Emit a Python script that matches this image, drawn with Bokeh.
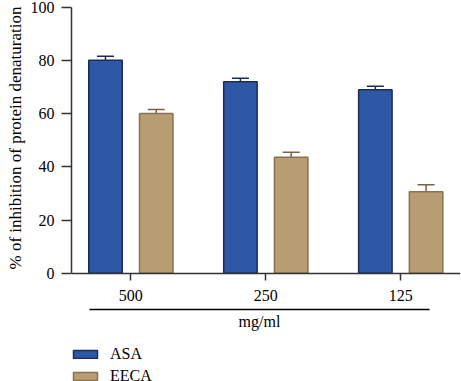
from bokeh.plotting import figure
from bokeh.models import (ColumnDataSource, Range1d, FixedTicker, LinearAxis,
                          Whisker, TeeHead, Legend, LegendItem, Title)
from bokeh.embed import file_html
from bokeh.resources import INLINE

# Concentrations (mg/ml) and mean % inhibition with error (±)
concentrations = ["500", "250", "125"]
asa_mean = [80.2, 72.1, 69.1]
asa_err = [1.5, 1.3, 1.3]
eeca_mean = [60.1, 43.7, 30.7]
eeca_err = [1.5, 1.8, 2.6]

FONT = "Liberation Serif"
ASA_FILL, ASA_LINE = "#2E58A5", "#1B2C58"
EECA_FILL, EECA_LINE = "#B89D72", "#8A7150"

groups = list(range(len(concentrations)))
offset = 0.188
bar_w = 0.248

# the frame reaches the bottom edge; the axes sit at fixed data positions
p = figure(width=461, height=381, output_backend="svg", toolbar_location=None,
           x_range=Range1d(-0.44, 2.443), y_range=Range1d(-40.7, 100),
           min_border_left=65, min_border_right=1, min_border_top=7,
           min_border_bottom=0)
p.outline_line_color = None
p.xgrid.visible = False
p.ygrid.visible = False
p.background_fill_color = "white"
p.border_fill_color = "white"

asa_src = ColumnDataSource(dict(
    x=[g - offset for g in groups], top=asa_mean,
    upper=[m + e for m, e in zip(asa_mean, asa_err)],
    lower=[m - e for m, e in zip(asa_mean, asa_err)]))
eeca_src = ColumnDataSource(dict(
    x=[g + offset for g in groups], top=eeca_mean,
    upper=[m + e for m, e in zip(eeca_mean, eeca_err)],
    lower=[m - e for m, e in zip(eeca_mean, eeca_err)]))

r_asa = p.vbar(x="x", top="top", bottom=0, width=bar_w, source=asa_src,
               fill_color=ASA_FILL, line_color=ASA_LINE, line_width=1.5)
r_eeca = p.vbar(x="x", top="top", bottom=0, width=bar_w, source=eeca_src,
                fill_color=EECA_FILL, line_color=EECA_LINE, line_width=1.5)

for src, col in ((asa_src, ASA_LINE), (eeca_src, "#7A6240")):
    w = Whisker(base="x", upper="upper", lower="lower", source=src,
                line_color=col, line_width=1.5,
                upper_head=TeeHead(size=17, line_color=col, line_width=1.5),
                lower_head=TeeHead(size=17, line_color=col, line_width=1.5))
    p.add_layout(w)

# y axis
ya = p.yaxis[0]
ya.ticker = FixedTicker(ticks=[0, 20, 40, 60, 80, 100])
ya.bounds = (0, 100)
ya.major_tick_out = 10
ya.major_tick_in = 0
ya.minor_tick_line_color = None
ya.axis_line_width = 1.5
ya.axis_line_color = "#333333"
ya.major_tick_line_width = 1.5
ya.major_tick_line_color = "#333333"
ya.major_label_text_font = FONT
ya.major_label_text_font_size = "16px"
ya.major_label_text_color = "black"
ya.major_label_standoff = 7

# y axis title, aligned with the 0-100 span rather than the whole frame
y_title = Title(text="% of inhibition of protein denaturation", align="right",
                offset=-1, standoff=6, text_font=FONT, text_font_size="17px",
                text_font_style="normal", text_color="black")
p.add_layout(y_title, "left")

# x axis with concentration labels, drawn at y = 0
xa = p.xaxis[0]
xa.fixed_location = 0
xa.ticker = FixedTicker(ticks=groups)
xa.major_label_overrides = {g: c for g, c in zip(groups, concentrations)}
xa.major_tick_out = 7
xa.major_tick_in = 0
xa.minor_tick_line_color = None
xa.axis_line_width = 1.5
xa.axis_line_color = "#333333"
xa.major_tick_line_width = 1.5
xa.major_tick_line_color = "#333333"
xa.major_label_text_font = FONT
xa.major_label_text_font_size = "16px"
xa.major_label_text_color = "black"
xa.major_label_standoff = 10

# unit line and title beneath the concentration labels
unit_axis = LinearAxis(ticker=FixedTicker(ticks=[]), bounds=(-0.307, 2.212),
                       fixed_location=-13.8,
                       axis_line_width=1.5, axis_line_color="black",
                       major_tick_line_color=None, minor_tick_line_color=None,
                       axis_label="mg/ml", axis_label_text_font=FONT,
                       axis_label_text_font_size="16px",
                       axis_label_text_font_style="normal",
                       axis_label_text_color="black",
                       axis_label_standoff=3)
p.add_layout(unit_axis, "below")

legend = Legend(items=[LegendItem(label="ASA", renderers=[r_asa]),
                       LegendItem(label="EECA", renderers=[r_eeca])],
                location=(-1, -4), orientation="vertical",
                padding=0, margin=0, spacing=4,
                glyph_width=30, glyph_height=10, label_standoff=10,
                label_text_font=FONT, label_text_font_size="16px",
                label_text_color="black", border_line_color=None,
                background_fill_alpha=0)
p.add_layout(legend, "center")

open("out.html", "w").write(file_html(p, INLINE))
